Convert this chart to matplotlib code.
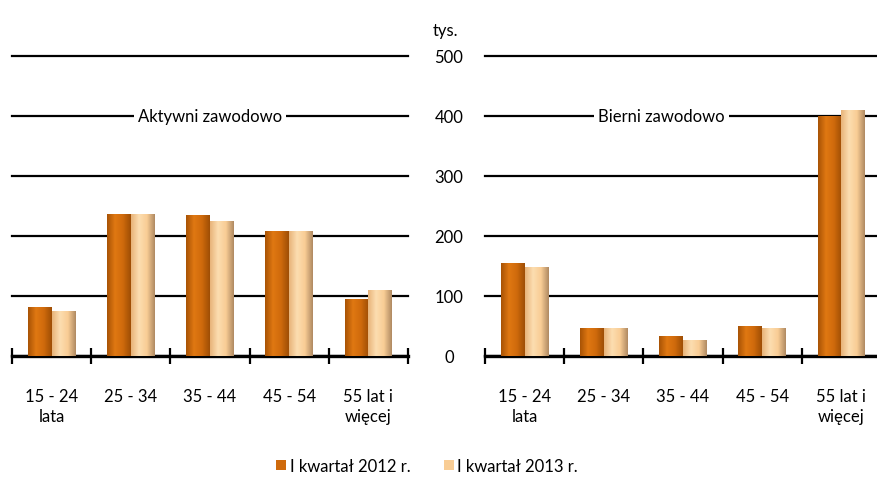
import numpy as np
import matplotlib.pyplot as plt
from matplotlib.colors import LinearSegmentedColormap

plt.rcParams['font.family'] = ['Lato', 'DejaVu Sans']

# kategorie wieku
groups = ['15 - 24\nlata', '25 - 34', '35 - 44', '45 - 54', '55 lat i\nwięcej']
series = ['I kwartał 2012 r.', 'I kwartał 2013 r.']
# aktywni zawodowo (tys.)
active_2012 = [82, 237, 235, 208, 95]
active_2013 = [75, 237, 225, 208, 110]
# bierni zawodowo (tys.)
inactive_2012 = [155, 47, 33, 50, 400]
inactive_2013 = [148, 47, 27, 47, 410]
yticks = [0, 100, 200, 300, 400, 500]

c12 = '#CF6A0C'
c13 = '#F9CD95'
cm12 = LinearSegmentedColormap.from_list('c12', ['#A85305', '#E07812', '#CF6A0C', '#9E4E05'])
cm13 = LinearSegmentedColormap.from_list('c13', ['#E8B47A', '#FCDDB0', '#F9CD95', '#B08A62'])

W, H = 877, 481
fig = plt.figure(figsize=(W / 100, H / 100), dpi=100)

def px(x0, x1, y0=57, y1=357):
    return [x0 / W, (H - y1) / H, (x1 - x0) / W, (y1 - y0) / H]

ax1 = fig.add_axes(px(12, 408))
ax2 = fig.add_axes(px(485, 881))

def shade(ax, rects, cmap):
    grad = np.linspace(0, 1, 64).reshape(1, -1)
    for r in rects:
        x, w, h = r.get_x(), r.get_width(), r.get_height()
        im = ax.imshow(grad, cmap=cmap, aspect='auto', extent=(x, x + w, 0, h), zorder=3)
        im.set_clip_path(r)

def panel(ax, v12, v13, title, tx):
    x = np.arange(len(groups))
    w = 0.3
    b1 = ax.bar(x - w / 2, v12, w, color=c12, zorder=2)
    b2 = ax.bar(x + w / 2, v13, w, color=c13, zorder=2)
    shade(ax, b1, cm12)
    shade(ax, b2, cm13)
    ax.set_xlim(-0.5, len(groups) - 0.5)
    ax.set_ylim(0, 500)
    for s in ['top', 'left', 'right']:
        ax.spines[s].set_visible(False)
    ax.spines['bottom'].set_linewidth(2.4)
    ax.set_yticks(yticks)
    ax.yaxis.grid(True, color='black', lw=1.6, zorder=0)
    for g in ax.get_ygridlines():
        g.set_clip_on(False)
    ax.set_axisbelow(True)
    ax.tick_params(axis='y', length=0, labelleft=False)
    ax.set_xticks(x)
    ax.set_xticklabels(groups, fontsize=12, linespacing=1.3)
    ax.set_xticks(np.arange(-0.5, len(groups)), minor=True)
    ax.tick_params(axis='x', which='major', length=0, pad=23)
    ax.tick_params(axis='x', which='minor', direction='inout', length=11, width=1.6)
    ax.text(tx, 400, title, ha='center', va='center', fontsize=12,
            bbox=dict(facecolor='white', edgecolor='none', pad=3), zorder=5)
    return b1, b2

h1, h2 = panel(ax1, active_2012, active_2013, 'Aktywni zawodowo', 2.0)
panel(ax2, inactive_2012, inactive_2013, 'Bierni zawodowo', 1.73)

ax2.tick_params(axis='y', labelleft=True, pad=26, labelsize=12)
for t in ax2.get_yticklabels():
    t.set_horizontalalignment('center')
fig.text(445 / W, 1 - 31 / H, 'tys.', ha='center', va='center', fontsize=12)

fig.legend([h1, h2], series, loc='center', bbox_to_anchor=(427 / W, 1 - 467 / H), ncol=2,
           frameon=False, fontsize=12, handlelength=0.6, handleheight=0.6,
           handletextpad=0.2, columnspacing=2.0)

fig.savefig('out.png', dpi=100)
